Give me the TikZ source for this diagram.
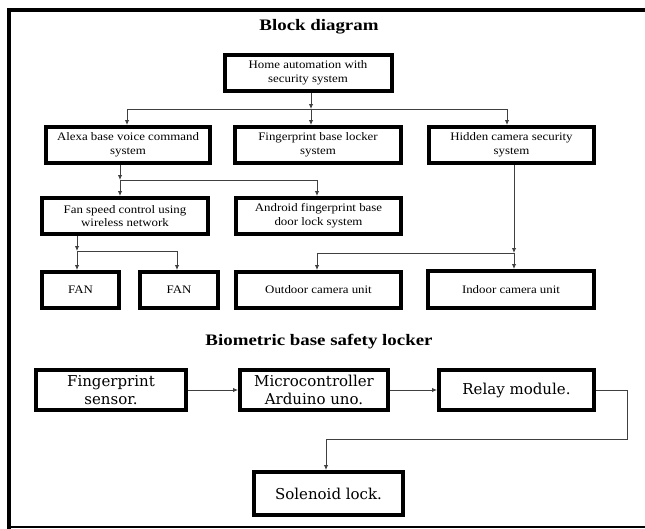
\documentclass[tikz,border=0pt]{standalone}
\usepackage{fontspec}
\setmainfont{Liberation Serif}
\newfontfamily\boxfont[FakeStretch=1.12]{Liberation Serif}
\newfontfamily\headfont[FakeStretch=1.18]{Liberation Serif}
\newfontfamily\lowfont{DejaVu Serif}
\usetikzlibrary{arrows.meta}
\begin{document}
\begin{tikzpicture}[x=1pt,y=-1pt,
  blk/.style={draw=black, line width=4pt, inner sep=0pt, align=center,
    font=\boxfont\fontsize{11.5}{13.8}\selectfont},
  lowblk/.style={blk, font=\lowfont\fontsize{15}{18.5}\selectfont},
  head/.style={anchor=base, font=\headfont\bfseries\fontsize{16}{18}\selectfont},
  conn/.style={draw=black!75, line width=0.9pt},
  arr/.style={conn, -{Latex[length=5pt,width=4.5pt]}},
  frame/.style={draw=black}]
\useasboundingbox (0,0) rectangle (645,528);
\clip (0,0) rectangle (645,528);
% frame
\draw[frame, line width=3.5pt] (660,10) -- (9,10) -- (9,540);
\draw[frame, line width=1.5pt] (9,526.8) -- (660,526.8);
% titles
\node[head] (t1) at (319,30.7) {Block diagram};
\node[head] (t2) at (319,345.5) {Biometric base safety locker};
% top boxes
\node[blk, minimum width=167pt, minimum height=36pt] (home) at (308,73) {Home automation with\\security system};
\node[blk, minimum width=164pt, minimum height=36pt] (alexa) at (128,145) {Alexa base voice command\\system};
\node[blk, minimum width=166pt, minimum height=36pt] (fpl) at (318,145) {Fingerprint base locker\\system};
\node[blk, minimum width=165pt, minimum height=36pt] (hidden) at (511.5,145) {Hidden camera security\\system};
\node[blk, minimum width=166pt, minimum height=36pt] (fan) at (125,216) {Fan speed control using\\wireless network};
\node[blk, minimum width=165pt, minimum height=36pt] (android) at (318.5,216) {Android fingerprint base\\door lock system};
\node[blk, minimum width=77pt, minimum height=36pt] (fan1) at (80.5,290) {FAN};
\node[blk, minimum width=78pt, minimum height=36pt] (fan2) at (179,290) {FAN};
\node[blk, minimum width=165pt, minimum height=36pt] (outdoor) at (318.5,290) {Outdoor camera unit};
\node[blk, minimum width=166pt, minimum height=37pt] (indoor) at (511,289.5) {Indoor camera unit};
% bottom boxes
\node[lowblk, minimum width=150pt, minimum height=40pt] (fs) at (111,390) {Fingerprint\\sensor.};
\node[lowblk, minimum width=148pt, minimum height=40pt] (mc) at (314,390) {Microcontroller\\Arduino uno.};
\node[lowblk, minimum width=155pt, minimum height=40pt] (relay) at (516.5,390) {Relay module.};
\node[lowblk, minimum width=149pt, minimum height=43pt] (sol) at (328.5,493.5) {Solenoid lock.};
% top connectors
\coordinate (b0) at (311,109);
\coordinate (bL) at (127,109);
\coordinate (bR) at (507,109);
\draw[arr] (home.south -| b0) -- (b0);
\draw[conn] (bL) -- (bR);
\draw[arr] (bL) -- (bL |- alexa.north);
\draw[arr] (b0) -- (b0 |- fpl.north);
\draw[arr] (bR) -- (bR |- hidden.north);
% alexa branch
\coordinate (c1) at (120,180);
\coordinate (c2) at (317,180);
\draw[arr] (alexa.south -| c1) -- (c1);
\draw[conn] (c1) -- (c2);
\draw[arr] (c1) -- (c1 |- fan.north);
\draw[arr] (c2) -- (c2 |- android.north);
% fan branch
\coordinate (d1) at (77,251);
\coordinate (d2) at (177,251);
\draw[arr] (fan.south -| d1) -- (d1);
\draw[conn] (d1) -- (d2);
\draw[arr] (d1) -- (d1 |- fan1.north);
\draw[arr] (d2) -- (d2 |- fan2.north);
% camera branch
\coordinate (e1) at (514,253);
\coordinate (e2) at (317,253);
\draw[arr] (hidden.south -| e1) -- (e1);
\draw[arr] (e1) -- (e1 |- indoor.north);
\draw[conn] (e1) -- (e2);
\draw[arr] (e2) -- (e2 |- outdoor.north);
% bottom connectors
\draw[arr] (fs.east) -- (mc.west);
\draw[arr] (mc.east) -- (relay.west);
\coordinate (r1) at (627,439);
\coordinate (r2) at (326,439);
\draw[arr] (relay.east) -| (r1) -- (r2) -- (r2 |- sol.north);
\end{tikzpicture}
\end{document}
